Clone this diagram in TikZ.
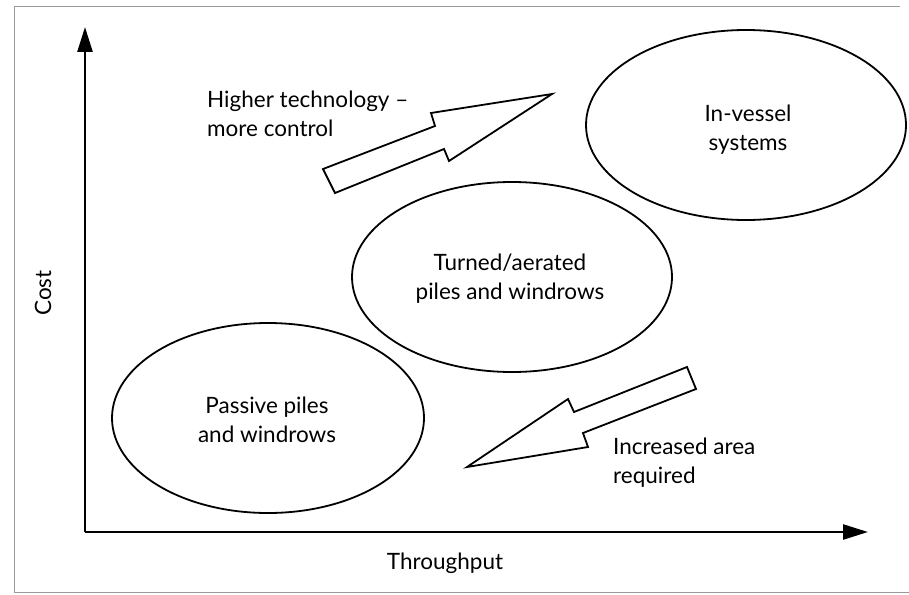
\documentclass[tikz,border=0pt]{standalone}
\usepackage{fontspec}
\setmainfont{Lato}
\usetikzlibrary{shapes.geometric,arrows.meta}
\begin{document}
\begin{tikzpicture}[x=1pt,y=-1pt,
  txt/.style={font=\fontsize{22.5}{29}\selectfont},
  blob/.style={draw,ellipse,line width=1.8pt,inner sep=0pt,minimum height=190pt},
  intext/.style={txt,inner sep=0pt,align=center},
  lbl/.style={txt,inner sep=0pt,align=left,anchor=west},
  fat/.style={draw,line width=1.8pt,line join=miter},
  axis/.style={line width=2.6pt,-{Triangle[length=25pt,width=15pt]}},
  frame/.style={draw=black!40,line width=1pt}]
\useasboundingbox (0,0) rectangle (909,594);
% frame
\draw[frame] (900,7) -- (14,7) -- (14,592.5) -- (909,592.5);
% axes
\coordinate (O) at (85,532);
\coordinate (ytip) at (85,27);
\coordinate (xtip) at (868,532);
\draw[axis] (O) -- (ytip);
\draw[axis] (O) -- (xtip);
\node[txt,rotate=90] (cost) at (43,293) {Cost};
\node[txt] (thr) at (445,563) {Throughput};
% ellipses
\node[blob,minimum width=320pt] (inv) at (746,125) {};
\node[intext] (invt) at (748,130) {In-vessel\\systems};
\node[blob,minimum width=320pt] (turn) at (512,277) {};
\node[intext] (turnt) at (510,279) {Turned/aerated\\piles and windrows};
\node[blob,minimum width=312pt] (pas) at (268,418) {};
\node[intext] (past) at (267,420) {Passive piles\\and windrows};
% block arrows
\draw[fat] (323,169) -- (435,126) -- (431,113) -- (552,94) -- (449,161) -- (444,149) -- (335,193) -- cycle;
\draw[fat] (467,467) -- (568,399) -- (574,412) -- (687,367) -- (696,389) -- (583,433) -- (588,447) -- cycle;
% labels
\node[lbl] (hi) at (207,114) {Higher technology --\\more control};
\node[lbl] (inc) at (613,463) {Increased area\\required};
\end{tikzpicture}
\end{document}
